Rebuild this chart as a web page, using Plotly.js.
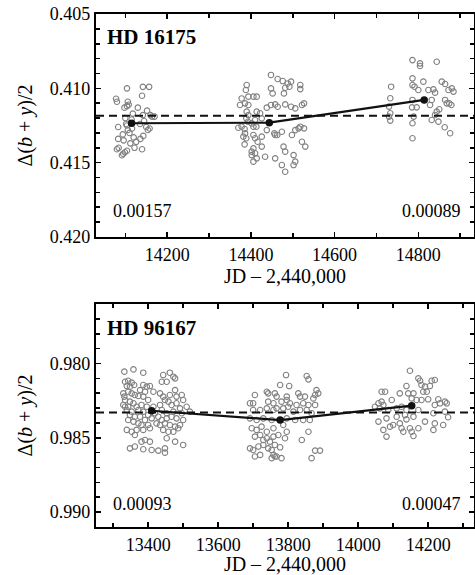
<!DOCTYPE html>
<html>
<head>
<meta charset="utf-8">
<script src="https://cdn.plot.ly/plotly-3.0.1.min.js"></script>
<style>html,body{margin:0;padding:0;background:#fff}#chart{width:475px;height:575px}</style>
</head>
<body>
<div id="chart"></div>
<script>
// ---- HD 16175 (top panel) ----
const topS1X = [14078,14080,14104,14142,14157,14140,14106,14108,14104,14130,14152,14118,14142,14164,14170,14160,14083,14102,14104,14116,14135,14145,14150,14154,14158,14083,14084,14080,14094,14096,14110,14112,14120,14126,14136,14143,14122,14140,14099,14095,14092,14104,14106,14100,14098,14115];
const topS1Y = [0.4107,0.4109,0.4100,0.4099,0.4099,0.4105,0.4109,0.4111,0.4112,0.4113,0.4115,0.4117,0.4118,0.4119,0.4119,0.4118,0.4126,0.4124,0.4125,0.4127,0.4124,0.4122,0.4126,0.4128,0.4127,0.4134,0.4140,0.4141,0.4131,0.4135,0.4130,0.4137,0.4133,0.4136,0.4134,0.4132,0.4140,0.4141,0.4143,0.4144,0.4145,0.4142,0.4128,0.4120,0.4113,0.4121];
const topS2X = [14448,14464,14476,14488,14496,14518,14492,14482,14518,14390,14388,14378,14394,14406,14414,14448,14452,14479,14374,14386,14394,14438,14448,14458,14464,14482,14496,14506,14522,14527,14414,14422,14390,14394,14389,14393,14410,14402,14426,14370,14378,14385,14406,14413,14438,14458,14456,14463,14474,14498,14506,14514,14518,14527,14386,14382,14389,14385,14406,14410,14426,14416,14406,14402,14410,14426,14414,14434,14402,14406,14458,14478,14482,14474,14482,14502,14506,14502,14522,14530];
const topS2Y = [0.40910,0.40937,0.40951,0.40967,0.40955,0.40978,0.40989,0.40996,0.41005,0.40978,0.41011,0.41068,0.41056,0.41056,0.41056,0.41000,0.41034,0.41034,0.41112,0.41101,0.41112,0.41130,0.41112,0.41108,0.41124,0.41108,0.41124,0.41135,0.41112,0.41101,0.41157,0.41168,0.41157,0.41180,0.41202,0.41225,0.41213,0.41236,0.41202,0.41265,0.41258,0.41274,0.41258,0.41258,0.41281,0.41314,0.41303,0.41314,0.41292,0.41314,0.41281,0.41269,0.41258,0.41269,0.41303,0.41325,0.41336,0.41377,0.41314,0.41336,0.41325,0.41359,0.41404,0.41426,0.41437,0.41392,0.41471,0.41460,0.41449,0.41493,0.41471,0.41392,0.41426,0.41516,0.41561,0.41449,0.41493,0.41516,0.41359,0.41392];
const topS3X = [14786,14804,14804,14844,14735,14786,14786,14791,14812,14800,14824,14836,14840,14856,14864,14880,14884,14872,14733,14786,14785,14796,14832,14828,14864,14868,14874,14879,14730,14733,14730,14733,14789,14832,14840,14844,14850,14848,14863,14876,14786,14786];
const topS3Y = [0.40810,0.40832,0.40850,0.40821,0.40989,0.40933,0.40978,0.40989,0.40955,0.41011,0.41011,0.41007,0.41029,0.40955,0.40971,0.41000,0.41022,0.41011,0.41067,0.41078,0.41128,0.41128,0.41078,0.41112,0.41078,0.41101,0.41101,0.41112,0.41123,0.41168,0.41190,0.41217,0.41190,0.41213,0.41179,0.41157,0.41141,0.41224,0.41262,0.41302,0.41235,0.41336];
const topMeanX = [14115, 14444, 14814];
const topMeanY = [0.41235, 0.41231, 0.41078];
const topLevel = 0.41184;
const topName = "HD 16175";
const topNotes = ["0.00157", "0.00089"];

// ---- HD 96167 (bottom panel) ----
const botS1X = [13332,13358,13386,13443,13462,13477,13453,13439,13472,13334,13343,13353,13360,13348,13339,13386,13396,13405,13415,13391,13377,13329,13343,13353,13362,13372,13386,13400,13434,13443,13448,13462,13481,13477,13496,13500,13334,13348,13358,13367,13381,13396,13415,13434,13458,13467,13481,13491,13510,13339,13353,13372,13386,13400,13419,13439,13453,13472,13496,13519,13348,13362,13377,13391,13410,13429,13439,13453,13467,13481,13500,13343,13358,13372,13381,13400,13424,13434,13448,13462,13477,13491,13339,13353,13367,13386,13405,13443,13458,13472,13486,13362,13381,13391,13405,13453,13477,13500,13348,13362,13386,13410,13429,13448,13448,13329,13334,13332,13343];
const botS1Y = [0.98055,0.98040,0.98062,0.98078,0.98062,0.98100,0.98123,0.98123,0.98089,0.98123,0.98116,0.98129,0.98145,0.98156,0.98152,0.98145,0.98156,0.98152,0.98190,0.98190,0.98179,0.98201,0.98190,0.98201,0.98212,0.98219,0.98223,0.98246,0.98201,0.98223,0.98246,0.98212,0.98223,0.98179,0.98212,0.98246,0.98246,0.98257,0.98268,0.98291,0.98279,0.98291,0.98291,0.98279,0.98257,0.98279,0.98268,0.98302,0.98291,0.98313,0.98324,0.98313,0.98324,0.98347,0.98335,0.98313,0.98335,0.98324,0.98335,0.98324,0.98347,0.98358,0.98358,0.98380,0.98369,0.98358,0.98380,0.98369,0.98358,0.98369,0.98380,0.98380,0.98391,0.98403,0.98414,0.98414,0.98403,0.98414,0.98403,0.98414,0.98425,0.98414,0.98447,0.98459,0.98447,0.98447,0.98436,0.98447,0.98459,0.98459,0.98436,0.98481,0.98526,0.98515,0.98526,0.98503,0.98526,0.98548,0.98571,0.98559,0.98577,0.98582,0.98586,0.98571,0.98600,0.98279,0.98291,0.98223,0.98291];
const botS2X = [13794,13853,13858,13777,13803,13881,13739,13743,13705,13762,13767,13796,13829,13848,13877,13886,13872,13834,13700,13691,13743,13758,13781,13796,13805,13824,13843,13858,13877,13700,13720,13739,13758,13767,13786,13800,13815,13834,13853,13867,13691,13710,13729,13753,13796,13820,13843,13862,13696,13710,13724,13739,13758,13786,13796,13858,13705,13720,13729,13739,13748,13758,13772,13791,13839,13691,13700,13715,13729,13743,13753,13762,13777,13877,13891,13705,13720,13758,13762,13767,13781,13753,13867];
const botS2Y = [0.98078,0.98084,0.98107,0.98145,0.98152,0.98179,0.98190,0.98201,0.98212,0.98201,0.98223,0.98223,0.98201,0.98223,0.98212,0.98201,0.98235,0.98223,0.98268,0.98268,0.98257,0.98268,0.98257,0.98246,0.98268,0.98279,0.98268,0.98279,0.98279,0.98313,0.98313,0.98302,0.98313,0.98302,0.98302,0.98291,0.98324,0.98313,0.98313,0.98335,0.98369,0.98380,0.98369,0.98380,0.98369,0.98380,0.98380,0.98380,0.98436,0.98447,0.98425,0.98459,0.98436,0.98414,0.98459,0.98459,0.98492,0.98481,0.98515,0.98503,0.98526,0.98492,0.98481,0.98503,0.98515,0.98571,0.98582,0.98559,0.98548,0.98571,0.98582,0.98548,0.98564,0.98586,0.98586,0.98626,0.98615,0.98615,0.98626,0.98626,0.98637,0.98637,0.98637];
const botS3X = [14148,14172,14177,14210,14219,14181,14191,14205,14138,14119,14143,14158,14186,14196,14067,14077,14096,14153,14167,14181,14200,14229,14234,14219,14248,14253,14058,14067,14048,14062,14072,14086,14110,14124,14138,14172,14215,14248,14058,14081,14110,14134,14138,14158,14191,14219,14243,14257,14072,14091,14100,14119,14124,14148,14153,14172,14215,14081,14129,14158];
const botS3Y = [0.98049,0.98100,0.98116,0.98116,0.98111,0.98145,0.98156,0.98152,0.98152,0.98201,0.98201,0.98201,0.98190,0.98190,0.98190,0.98190,0.98246,0.98235,0.98246,0.98246,0.98241,0.98241,0.98268,0.98279,0.98257,0.98268,0.98268,0.98257,0.98291,0.98302,0.98279,0.98313,0.98302,0.98291,0.98313,0.98313,0.98335,0.98324,0.98391,0.98369,0.98358,0.98347,0.98376,0.98358,0.98391,0.98403,0.98414,0.98362,0.98447,0.98425,0.98414,0.98403,0.98436,0.98436,0.98459,0.98436,0.98447,0.98492,0.98459,0.98488];
const botMeanX = [13410, 13777, 14153];
const botMeanY = [0.98318, 0.98381, 0.98284];
const botLevel = 0.98329;
const botName = "HD 96167";
const botNotes = ["0.00093", "0.00047"];

const xTitle = "JD \u2013 2,440,000";
const yTitle = "\u0394(<i>b</i> + <i>y</i>)/2";

const FONT = "Liberation Serif, Times New Roman, serif";
const grayC = "#808080";

function obsTrace(x, y, xa, ya) {
  return {x: x, y: y, xaxis: xa, yaxis: ya, type: "scatter", mode: "markers",
    marker: {symbol: "circle-open", size: 5.5, color: grayC, line: {width: 1.1, color: grayC}},
    hoverinfo: "skip", showlegend: false};
}
function meanTrace(x, y, xa, ya) {
  return {x: x, y: y, xaxis: xa, yaxis: ya, type: "scatter", mode: "lines+markers",
    line: {color: "#111", width: 2.2},
    marker: {symbol: "circle", size: 7.5, color: "#111"},
    hoverinfo: "skip", showlegend: false};
}

const data = [
  obsTrace(topS1X.concat(topS2X, topS3X), topS1Y.concat(topS2Y, topS3Y), "x", "y"),
  meanTrace(topMeanX, topMeanY, "x", "y"),
  obsTrace(botS1X.concat(botS2X, botS3X), botS1Y.concat(botS2Y, botS3Y), "x2", "y2"),
  meanTrace(botMeanX, botMeanY, "x2", "y2")
];

function xAxis(range, anchor) {
  return {range: range, anchor: anchor, domain: [0, 1], dtick: 200, tick0: 0, tickformat: "d",
    ticks: "inside", ticklen: 5, tickwidth: 1.6, tickcolor: "#000",
    minor: {dtick: 100, ticks: "inside", ticklen: 4, tickwidth: 1.6, tickcolor: "#000"},
    showline: true, linecolor: "#000", linewidth: 2.2, mirror: "ticks",
    showgrid: false, zeroline: false, automargin: false,
    tickfont: {family: FONT, size: 18, color: "#000"},
    title: {text: xTitle, standoff: 3, font: {family: FONT, size: 20, color: "#000"}}};
}
function yAxis(range, anchor, domain, tick0) {
  return {range: range, anchor: anchor, domain: domain, dtick: 0.005, tick0: tick0, tickformat: ".3f",
    ticks: "inside", ticklen: 5, tickwidth: 1.6, tickcolor: "#000",
    minor: {dtick: 0.001, ticks: "inside", ticklen: 4, tickwidth: 1.6, tickcolor: "#000"},
    showline: true, linecolor: "#000", linewidth: 2.2, mirror: "ticks",
    showgrid: false, zeroline: false, automargin: false,
    tickfont: {family: FONT, size: 18, color: "#000"},
    title: {text: yTitle, standoff: 12, font: {family: FONT, size: 20, color: "#000"}}};
}

function levelShape(xref, yref, v) {
  return {type: "line", xref: xref + " domain", yref: yref, x0: 0, x1: 1, y0: v, y1: v,
    line: {color: "#111", width: 2, dash: "8px,5px"}};
}
function note(xref, yref, text, x, xanchor, y, size, bold) {
  return {xref: xref + " domain", yref: yref + " domain", x: x, y: y, xanchor: xanchor, yanchor: "middle",
    text: bold ? "<b>" + text + "</b>" : text, showarrow: false,
    font: {family: FONT, size: size, color: "#000"}};
}

const layout = {
  width: 475, height: 575,
  margin: {l: 96, r: 1, t: 14, b: 48},
  paper_bgcolor: "#fff", plot_bgcolor: "#fff",
  showlegend: false,
  xaxis: xAxis([14030, 14933], "y"),
  yaxis: yAxis([0.420, 0.405], "x", [0.5653, 1], 0.405),
  xaxis2: xAxis([13251, 14331], "y2"),
  yaxis2: yAxis([0.991, 0.976], "x2", [0, 0.4347], 0.980),
  shapes: [levelShape("x", "y", topLevel), levelShape("x2", "y2", botLevel)],
  annotations: [
    note("x", "y", topName, 0.025, "left", 0.897, 21, true),
    note("x", "y", topNotes[0], 0.04, "left", 0.115, 18, false),
    note("x", "y", topNotes[1], 0.97, "right", 0.115, 18, false),
    note("x2", "y2", botName, 0.025, "left", 0.893, 21, true),
    note("x2", "y2", botNotes[0], 0.04, "left", 0.105, 18, false),
    note("x2", "y2", botNotes[1], 0.97, "right", 0.105, 18, false)
  ]
};

Plotly.newPlot("chart", data, layout, {staticPlot: true, displayModeBar: false});
</script>
</body>
</html>
